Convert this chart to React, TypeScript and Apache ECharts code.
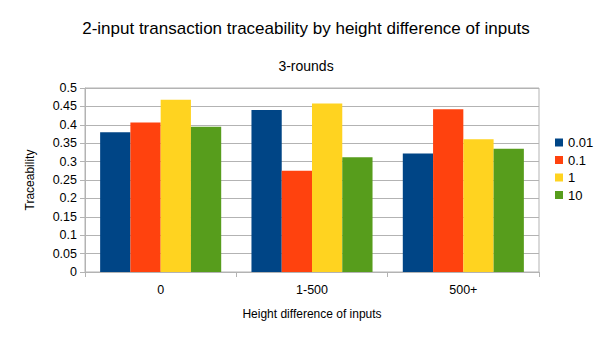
import React, { useEffect, useRef } from "react";
import * as echarts from "echarts";

const categories = ["0", "1-500", "500+"];
const seriesNames = ["0.01", "0.1", "1", "10"];
const values001 = [0.38, 0.44, 0.322];
const values01 = [0.406, 0.275, 0.442];
const values1 = [0.468, 0.458, 0.361];
const values10 = [0.395, 0.312, 0.335];
const colors = ["#004586", "#ff420e", "#ffd320", "#579d1c"];
const yTicks = [0, 0.05, 0.1, 0.15, 0.2, 0.25, 0.3, 0.35, 0.4, 0.45, 0.5];

const FONT = "'Liberation Sans', Arial, sans-serif";

export default function App() {
  const ref = useRef<HTMLDivElement>(null);
  useEffect(() => {
    if (!ref.current) return;
    const chart = echarts.init(ref.current, null, { renderer: "svg" });
    const allValues = [values001, values01, values1, values10];
    chart.setOption({
      animation: false,
      textStyle: { fontFamily: FONT },
      title: [
        {
          text: "2-input transaction traceability by height difference of inputs",
          left: 301,
          textAlign: "center",
          top: 15,
          textStyle: { fontFamily: FONT, fontSize: 17, fontWeight: "normal", color: "#000" },
        },
        {
          text: "3-rounds",
          left: 301,
          textAlign: "center",
          top: 54,
          textStyle: { fontFamily: FONT, fontSize: 14, fontWeight: "normal", color: "#000" },
        },
      ],
      legend: {
        orient: "vertical",
        left: 550,
        top: 131,
        itemWidth: 8,
        itemHeight: 8,
        itemGap: 4.5,
        itemTextGap: 6,
        icon: "rect",
        textStyle: { fontFamily: FONT, fontSize: 13, color: "#000" },
        data: seriesNames,
      },
      grid: {
        left: 85,
        right: 66,
        top: 88,
        bottom: 68,
        show: true,
        borderColor: "#b3b3b3",
        borderWidth: 1,
      },
      xAxis: {
        type: "category",
        data: categories,
        name: "Height difference of inputs",
        nameLocation: "middle",
        nameGap: 36,
        nameTextStyle: { fontFamily: FONT, fontSize: 12, color: "#000" },
        axisLine: { lineStyle: { color: "#b3b3b3" } },
        axisTick: { show: true, length: 5, lineStyle: { color: "#b3b3b3" }, alignWithLabel: false },
        axisLabel: { fontFamily: FONT, fontSize: 12.5, color: "#000", margin: 11 },
      },
      yAxis: {
        type: "value",
        min: 0,
        max: 0.5,
        interval: 0.05,
        name: "Traceability",
        nameLocation: "middle",
        nameGap: 49,
        nameTextStyle: { fontFamily: FONT, fontSize: 12, color: "#000" },
        axisLine: { show: true, lineStyle: { color: "#b3b3b3" } },
        axisTick: { show: true, length: 5, lineStyle: { color: "#b3b3b3" } },
        splitLine: { lineStyle: { color: "#b3b3b3" } },
        axisLabel: {
          fontFamily: FONT,
          fontSize: 12.5,
          color: "#000",
          margin: 8,
          formatter: (v: number) => {
            const t = yTicks.find((x) => Math.abs(x - v) < 1e-9);
            return t === undefined ? "" : String(Number(t.toFixed(2)));
          },
        },
      },
      series: seriesNames.map((name, i) => ({
        name,
        type: "bar",
        data: allValues[i],
        barGap: "0%",
        barCategoryGap: "20%",
        itemStyle: { color: colors[i] },
      })),
    });
    return () => chart.dispose();
  }, []);
  return (
    <div
      ref={ref}
      style={{ position: "fixed", left: 0, top: 0, width: 605, height: 340, background: "#fff" }}
    />
  );
}
